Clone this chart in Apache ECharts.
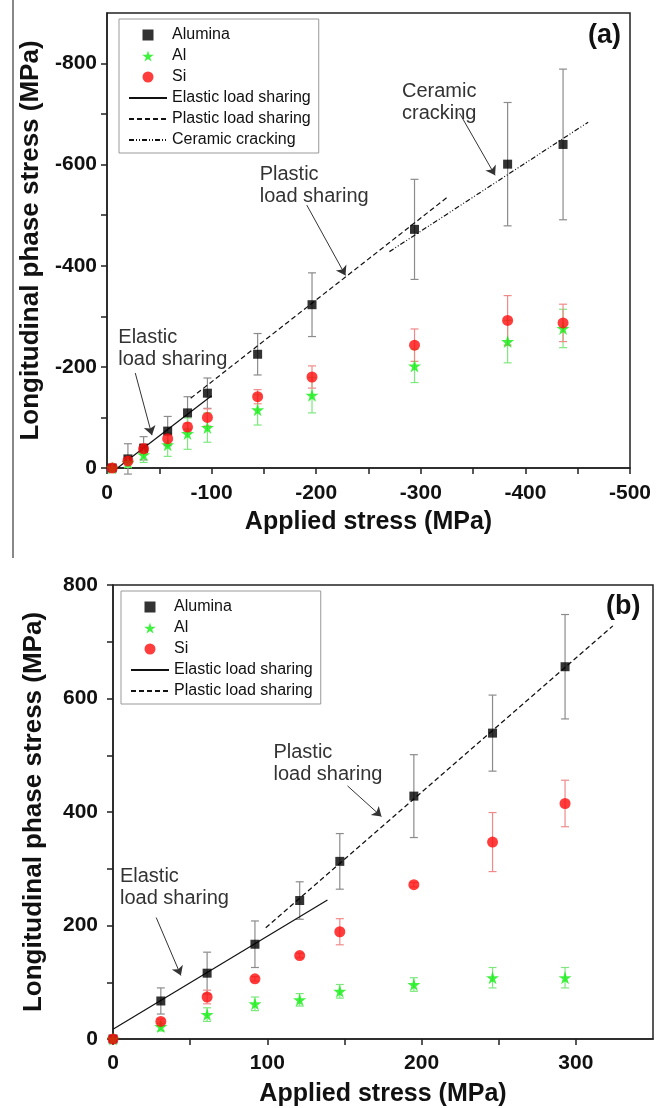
<!DOCTYPE html>
<html>
<head>
  <meta charset="UTF-8">
  <title>Longitudinal phase stress vs applied stress</title>
  <script src="https://cdn.jsdelivr.net/npm/echarts@6/dist/echarts.min.js"></script>
  <style type="text/css">
    html, body {margin: 0; padding: 0; background: #fff;}
    #chart {width: 656px; height: 1108px;}
  </style>
</head>
<body>
<div id="chart"></div>
<script type="text/javascript">

// ---- panel (a): compression ----
var aApplied   = [-5, -20, -35, -58, -77, -96, -144, -196, -294, -383, -436];
var aAlumina   = [0, -18, -39, -73, -109, -148, -225, -323, -472, -601, -640];
var aAluminaEr = [0, 30, 23, 29, 32, 30, 41, 63, 99, 122, 149];
var aAl        = [0, -11, -26, -46, -68, -80, -115, -144, -202, -250, -276];
var aAlEr      = [0, 10, 15, 23, 31, 29, 30, 35, 33, 42, 38];
var aSi        = [0, -14, -38, -58, -81, -100, -141, -180, -243, -292, -287];
var aSiEr      = [0, 8, 10, 10, 8, 17, 14, 22, 32, 49, 37];
var aElastic   = [[-10, 0], [-100, -143]];
var aPlastic   = [[-80, -138], [-325, -535]];
var aCeramic   = [[-270, -428], [-460, -684]];
var aXTicks    = [0, -50, -100, -150, -200, -250, -300, -350, -400, -450, -500];
var aXLabels   = [0, -100, -200, -300, -400, -500];
var aYTicks    = [0, -100, -200, -300, -400, -500, -600, -700, -800];
var aYLabels   = [0, -200, -400, -600, -800];

// ---- panel (b): tension ----
var bApplied   = [0, 31, 61, 92, 121, 147, 195, 246, 293];
var bAlumina   = [0, 67, 116, 167, 244, 313, 428, 539, 656];
var bAluminaEr = [0, 23, 37, 41, 33, 49, 73, 67, 92];
var bAl        = [0, 22, 43, 62, 69, 84, 96, 108, 108];
var bAlEr      = [0, 8, 12, 12, 11, 12, 12, 18, 18];
var bSi        = [0, 31, 74, 106, 147, 189, 272, 347, 415];
var bSiEr      = [0, 4, 12, 4, 4, 23, 4, 52, 41];
var bElastic   = [[0, 17], [139, 245]];
var bPlastic   = [[99, 196], [324, 728]];
var bXTicks    = [0, 50, 100, 150, 200, 250, 300];
var bXLabels   = [0, 100, 200, 300];
var bYTicks    = [0, 100, 200, 300, 400, 500, 600, 700, 800];
var bYLabels   = [0, 200, 400, 600, 800];

var FONT = "'Liberation Sans', Arial, sans-serif";
var STAR = 'path://M50,0 L61,35 L98,35 L68,57 L79,91 L50,70 L21,91 L32,57 L2,35 L39,35 Z';
var SQUARE = 'path://M0,0 L10,0 L10,10 L0,10 Z';

function zip(xs, ys) {
    return xs.map(function (x, i) { return [x, ys[i]]; });
}

function errorBars(gi, xs, ys, errs, color) {
    var rows = [];
    xs.forEach(function (x, i) {
        if (errs[i] > 0) rows.push([x, ys[i] - errs[i], ys[i] + errs[i]]);
    });
    return {
        type: 'custom', xAxisIndex: gi, yAxisIndex: gi, data: rows, silent: true, z: 1,
        encode: {x: 0, y: [1, 2]},
        renderItem: function (params, api) {
            var lo = api.coord([api.value(0), api.value(1)]);
            var hi = api.coord([api.value(0), api.value(2)]);
            var w = 4, st = {stroke: color, lineWidth: 1.2};
            return {type: 'group', children: [
                {type: 'line', shape: {x1: lo[0], y1: lo[1], x2: hi[0], y2: hi[1]}, style: st},
                {type: 'line', shape: {x1: lo[0] - w, y1: lo[1], x2: lo[0] + w, y2: lo[1]}, style: st},
                {type: 'line', shape: {x1: hi[0] - w, y1: hi[1], x2: hi[0] + w, y2: hi[1]}, style: st}
            ]};
        }
    };
}

function markers(gi, xs, alu, al, si) {
    return [
        {name: 'Alumina', type: 'scatter', xAxisIndex: gi, yAxisIndex: gi, symbol: SQUARE, symbolSize: 9,
            itemStyle: {color: '#000'}, data: zip(xs, alu), z: 3},
        {name: 'Al', type: 'scatter', xAxisIndex: gi, yAxisIndex: gi, symbol: STAR, symbolSize: 13,
            itemStyle: {color: '#10ee10'}, data: zip(xs, al), z: 3},
        {name: 'Si', type: 'scatter', xAxisIndex: gi, yAxisIndex: gi, symbol: 'circle', symbolSize: 11,
            itemStyle: {color: '#ff0d0d'}, data: zip(xs, si), z: 3}
    ];
}

function fitLine(gi, name, pts, dash) {
    return {name: name, type: 'line', xAxisIndex: gi, yAxisIndex: gi, data: pts, symbol: 'none', z: 2,
        itemStyle: {color: '#111'},
        lineStyle: {color: '#111', width: 1.2, type: dash}};
}

// annotation text + arrow, both placed in data coordinates
function notes(gi, texts, arrows) {
    return {
        type: 'line', xAxisIndex: gi, yAxisIndex: gi, data: [], silent: true,
        markPoint: {
            symbol: 'circle', symbolSize: 0, animation: false,
            label: {show: true, formatter: '{b}', position: [0, 0], align: 'left', verticalAlign: 'top',
                fontFamily: FONT, fontSize: 20, lineHeight: 22, color: '#333'},
            data: texts.map(function (t) { return {name: t[0], coord: t[1]}; })
        },
        markLine: {
            symbol: ['none', 'arrow'], symbolSize: 9, animation: false, silent: true,
            label: {show: false},
            lineStyle: {color: '#333', width: 1, type: 'solid'},
            data: arrows.map(function (a) { return [{coord: a[0]}, {coord: a[1]}]; })
        }
    };
}

function xAxis(gi, min, max, inverse, ticks, labels, gap, margin) {
    return {
        gridIndex: gi, type: 'value', min: min, max: max, inverse: inverse,
        name: 'Applied stress (MPa)', nameLocation: 'middle', nameGap: gap,
        nameTextStyle: {fontFamily: FONT, fontSize: 25, fontWeight: 'bold', color: '#111'},
        axisLine: {onZero: false, lineStyle: {color: '#222', width: 1.5}},
        axisTick: {inside: false, length: 6, customValues: ticks, lineStyle: {color: '#222', width: 1.5}},
        axisLabel: {customValues: labels, margin: margin, fontFamily: FONT, fontSize: 21, fontWeight: 'bold', color: '#111'},
        splitLine: {show: false}
    };
}

function yAxis(gi, min, max, inverse, ticks, labels, gap, margin) {
    return {
        gridIndex: gi, type: 'value', min: min, max: max, inverse: inverse,
        name: 'Longitudinal phase stress (MPa)', nameLocation: 'middle', nameGap: gap,
        nameTextStyle: {fontFamily: FONT, fontSize: 26, fontWeight: 'bold', color: '#111'},
        axisLine: {onZero: false, lineStyle: {color: '#222', width: 1.5}},
        axisTick: {inside: false, length: 6, customValues: ticks, lineStyle: {color: '#222', width: 1.5}},
        axisLabel: {customValues: labels, margin: margin, fontFamily: FONT, fontSize: 21, fontWeight: 'bold', color: '#111'},
        splitLine: {show: false}
    };
}

// line entries get a hidden middle symbol so only the stroke shows
function legend(left, top, names) {
    return {
        left: left, top: top, orient: 'vertical', itemWidth: 38, itemHeight: 11, itemGap: 5,
        padding: [8, 8, 5, 9], borderColor: '#999', borderWidth: 1, selectedMode: false,
        symbolKeepAspect: true,
        textStyle: {fontFamily: FONT, fontSize: 16, lineHeight: 16, color: '#111'},
        data: names.map(function (n, i) {
            return i < 3 ? {name: n} : {name: n, itemStyle: {opacity: 0}};
        })
    };
}

var series = [].concat(
    errorBars(0, aApplied, aAlumina, aAluminaEr, '#8c8c8c'),
    errorBars(0, aApplied, aAl, aAlEr, '#7ee87e'),
    errorBars(0, aApplied, aSi, aSiEr, '#f08a8a'),
    fitLine(0, 'Elastic load sharing', aElastic, 'solid'),
    fitLine(0, 'Plastic load sharing', aPlastic, [5, 3]),
    fitLine(0, 'Ceramic cracking', aCeramic, [5, 2, 1, 2, 1, 2]),
    markers(0, aApplied, aAlumina, aAl, aSi),
    notes(0,
        [['Elastic\nload sharing', [-10.8, -279]], ['Plastic\nload sharing', [-146, -603]], ['Ceramic\ncracking', [-282, -766]]],
        [[[-27, -188], [-43, -65]], [[-191, -520], [-228, -381]], [[-337, -702], [-371, -579]]]),

    errorBars(1, bApplied, bAlumina, bAluminaEr, '#8c8c8c'),
    errorBars(1, bApplied, bAl, bAlEr, '#7ee87e'),
    errorBars(1, bApplied, bSi, bSiEr, '#f08a8a'),
    fitLine(1, 'Elastic load sharing', bElastic, 'solid'),
    fitLine(1, 'Plastic load sharing', bPlastic, [5, 3]),
    markers(1, bApplied, bAlumina, bAl, bSi),
    notes(1,
        [['Plastic\nload sharing', [104, 525]], ['Elastic\nload sharing', [4.5, 305]]],
        [[[152, 446], [174, 392]], [[28, 214], [44, 112]]])
);

var option = {
    animation: false,
    backgroundColor: '#fff',
    grid: [
        {left: 107, top: 13, width: 523, height: 455, show: true, borderColor: '#222', borderWidth: 1.5},
        {left: 113, top: 585, width: 540, height: 457, show: true, borderColor: '#222', borderWidth: 1.5}
    ],
    xAxis: [
        xAxis(0, -500, 0, true, aXTicks, aXLabels, 42, 15),
        xAxis(1, 0, 350, false, bXTicks, bXLabels, 43, 14)
    ],
    yAxis: [
        yAxis(0, -900, 0, true, aYTicks, aYLabels, 60, 10),
        yAxis(1, 0, 800, false, bYTicks, bYLabels, 66, 15)
    ],
    legend: [
        legend(119, 19, ['Alumina', 'Al', 'Si', 'Elastic load sharing', 'Plastic load sharing', 'Ceramic cracking']),
        legend(121, 591, ['Alumina', 'Al', 'Si', 'Elastic load sharing', 'Plastic load sharing'])
    ],
    graphic: [
        {type: 'line', shape: {x1: 13, y1: 0, x2: 13, y2: 558}, style: {stroke: '#888', lineWidth: 2}},
        {type: 'text', left: 588, top: 22, style: {text: '(a)', fontFamily: FONT, fontSize: 27, fontWeight: 'bold', fill: '#111'}},
        {type: 'text', left: 606, top: 593, style: {text: '(b)', fontFamily: FONT, fontSize: 27, fontWeight: 'bold', fill: '#111'}}
    ],
    series: series
};

var myChart = echarts.init(document.getElementById('chart'));
myChart.setOption(option);

</script>
</body>
</html>
